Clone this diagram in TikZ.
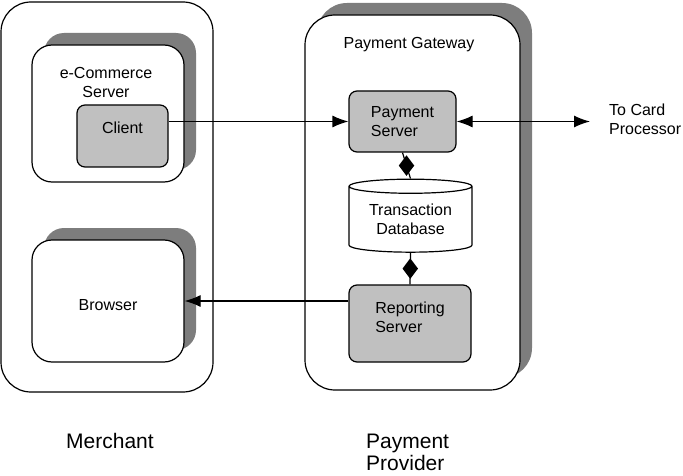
\documentclass[tikz,border=0pt]{standalone}
\usepackage{fontspec}
\setmainfont{Liberation Sans}
\usetikzlibrary{arrows.meta,shapes.geometric,shadows}
\definecolor{boxgray}{RGB}{192,192,192}
\definecolor{shadegray}{RGB}{125,125,125}
\tikzset{
  zone/.style={draw, line width=1.2pt, rounded corners=30pt, fill=white},
  shadowed/.style={general shadow={fill=shadegray, shadow xshift=12pt, shadow yshift=12pt}},
  host/.style={draw, line width=1.2pt, rounded corners=20pt, fill=white, font=\fontsize{16}{19}\selectfont},
  unit/.style={draw, line width=1.2pt, rounded corners=8pt, fill=boxgray, align=left, font=\fontsize{16}{19}\selectfont},
  txt/.style={font=\fontsize{16}{19}\selectfont, align=center, inner sep=0pt},
  big/.style={font=\fontsize{21}{22}\selectfont, align=left, inner sep=0pt},
  link/.style={line width=1.2pt, -{Latex[length=16pt,width=12pt]}},
  dmd/.style={diamond, fill=black, inner sep=0pt, minimum width=16pt, minimum height=21pt}
}

\begin{document}
\begin{tikzpicture}[x=1pt,y=-1pt]
\useasboundingbox (0,0) rectangle (683,476);
% Merchant side
\node[zone, minimum width=212pt, minimum height=390pt] (merchant) at (107,197) {};
\node[host, shadowed, minimum width=152pt, minimum height=137pt] (ecom) at (108,113.5) {};
\node[txt] (ecomlbl) at (106,82) {e-Commerce\\Server};
\node[unit, minimum width=91pt, minimum height=62pt, text depth=16pt] (client) at (122.5,136) {Client};
\node[host, shadowed, minimum width=152pt, minimum height=122pt, text height=20pt] (browser) at (108,301) {Browser};
% Payment provider side
\node[zone, shadowed, minimum width=215pt, minimum height=375pt] (gateway) at (412.5,202.5) {};
\node[txt] (gwlbl) at (409,45) {Payment Gateway};
\node[unit, minimum width=107pt, minimum height=61pt] (pay) at (402.5,121.5) {Payment\\Server};
\node[cylinder, shape border rotate=90, aspect=0.17, draw, line width=1.2pt, fill=white,
      minimum width=123pt, minimum height=73pt, txt] (db) at (410.5,219.5) {Transaction\\Database};
\node[unit, minimum width=122pt, minimum height=77pt, text depth=12pt] (rep) at (410,323.5) {Reporting\\Server};
% Connectors
\draw[link] (pay.west -| client.east) -- (pay.west);
\draw[link] (rep.west |- browser.east) -- (browser.east);
\coordinate (card) at (590,121.5);
\draw[line width=1.2pt, {Latex[length=16pt,width=12pt]}-{Latex[length=16pt,width=12pt]}] (pay.east) -- (card);
\draw[line width=1.2pt] (pay.south) -- node[dmd] (d1) {} (db.north);
\draw[line width=1.2pt] (db.south) -- node[dmd] (d2) {} (rep.north);
% Labels
\node[txt, align=left, anchor=west] (cardlbl) at (609,119) {To Card\\Processor};
\node[big] (merch) at (110,441) {Merchant};
\node[big, anchor=west] (prov) at (366,452) {Payment\\Provider};
\end{tikzpicture}
\end{document}
